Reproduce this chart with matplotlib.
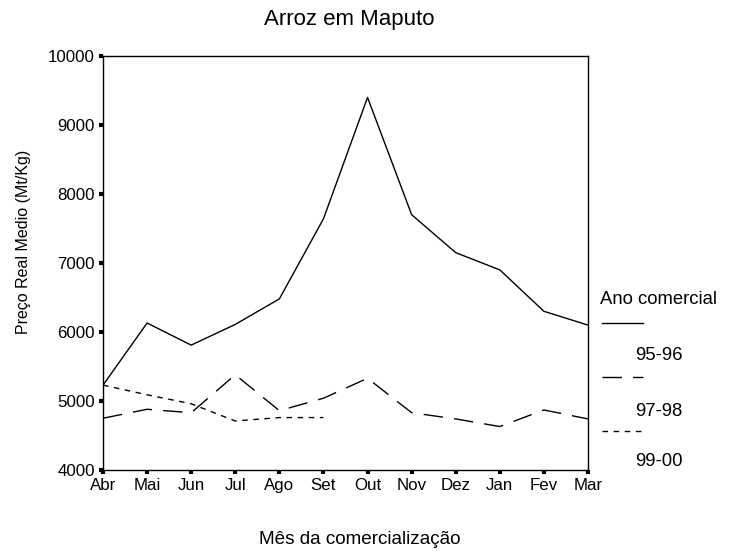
import matplotlib
matplotlib.use("Agg")
import matplotlib.pyplot as plt
from matplotlib.lines import Line2D

plt.rcParams['font.family'] = ['Liberation Sans', 'DejaVu Sans']

meses = ["Abr", "Mai", "Jun", "Jul", "Ago", "Set", "Out", "Nov", "Dez", "Jan", "Fev", "Mar"]
anos = ["95-96", "97-98", "99-00"]
preco_9596 = [5230, 6130, 5810, 6110, 6480, 7640, 9400, 7700, 7150, 6900, 6300, 6100]
preco_9798 = [4750, 4880, 4830, 5380, 4860, 5040, 5330, 4830, 4740, 4630, 4870, 4740]
preco_9900 = [5230, 5090, 4960, 4710, 4760, 4760]
yticks = [4000, 5000, 6000, 7000, 8000, 9000, 10000]

estilos = ["-", (0, (14, 8)), (0, (4, 4))]
series = [preco_9596, preco_9798, preco_9900]

fig = plt.figure(figsize=(7.33, 5.53), dpi=100)
ax = fig.add_axes([103 / 733, 1 - 470 / 553, 485 / 733, 414 / 553])

for valores, ls in zip(series, estilos):
    ax.plot(range(len(valores)), valores, color="black", linewidth=1.0, linestyle=ls)

ax.set_xlim(0, len(meses) - 1)
ax.set_ylim(yticks[0], yticks[-1])
ax.set_xticks(range(len(meses)))
ax.set_xticklabels(meses)
ax.set_yticks(yticks)
ax.tick_params(axis="both", labelsize=12.2, length=3, width=3, direction="out", pad=3)
for s in ax.spines.values():
    s.set_linewidth(1.0)

fig.text(349 / 733, 1 - 20 / 553, "Arroz em Maputo", ha="center", va="center", fontsize=16)
fig.text(360 / 733, 1 - 540 / 553, "Mês da comercialização", ha="center", va="center", fontsize=13.6)
fig.text(24 / 733, 1 - 242 / 553, "Preço Real Medio (Mt/Kg)", ha="center", va="center",
         rotation=90, fontsize=11.5)

# legenda manual: linha por baixo do titulo, rotulo por baixo da linha
fig.text(600 / 733, 1 - 300 / 553, "Ano comercial", ha="left", va="center", fontsize=13.3)
y_linhas = [323, 377, 431]
y_rotulos = [356, 411, 461]
for ano, ls, yl, yr in zip(anos, estilos, y_linhas, y_rotulos):
    fig.add_artist(Line2D([602 / 733, 643 / 733], [1 - yl / 553, 1 - yl / 553],
                          color="black", linewidth=1.0, linestyle=ls))
    fig.text(635 / 733, 1 - yr / 553, ano, ha="left", va="center", fontsize=13.3)

fig.savefig("out.png", dpi=100)
